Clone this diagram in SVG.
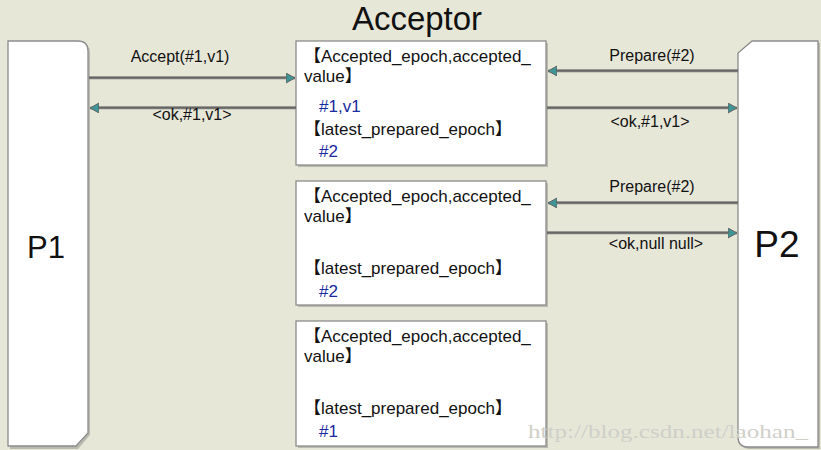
<svg xmlns="http://www.w3.org/2000/svg" width="821" height="450" viewBox="0 0 821 450">
<style>
.box{fill:#ffffff;stroke:#8c8c8c;stroke-width:1.3}
.shadow{fill:#b9b9b0}
.t{font-family:"Liberation Sans","Noto Sans CJK SC",sans-serif;font-size:17px;fill:#111}
.v{font-family:"Liberation Sans","Noto Sans CJK SC",sans-serif;font-size:17px;fill:#1a2aa0}
.lbl{font-family:"Liberation Sans",Arial,sans-serif;font-size:16px;fill:#111;text-anchor:middle}
.big{font-family:"Liberation Sans",Arial,sans-serif;fill:#111;text-anchor:middle}
.ln{stroke:#777;stroke-width:2.6;fill:none}
.ln2{stroke:#4e4e4e;stroke-width:0.8;fill:none}
</style>
<defs>
<marker id="ah" markerUnits="userSpaceOnUse" markerWidth="12" markerHeight="12" refX="9" refY="5" orient="auto">
<path d="M0,0 L9,5 L0,10 Z" fill="#3f9595" stroke="#666" stroke-width="1"/>
</marker>
</defs>
<rect width="821" height="450" fill="#e7e7d8"/>
<g id="title"><text class="big" x="417" y="30" font-size="33">Acceptor</text></g>
<g id="P1">
<path class="shadow" d="M10,43 H80 Q90,43 90,53 V435 L78,449 H10 Z"/>
<path class="box" d="M8,41 H78 Q88,41 88,51 V433 L76,446 H8 Z"/>
<text class="big" x="46" y="258" font-size="31">P1</text>
</g>
<g id="P2">
<path class="shadow" d="M754,43 H820 V449 H750 Q740,449 740,439 V55 Z"/>
<path class="box" d="M752,41 H818 V447 H748 Q738,447 738,437 V53 Z"/>
<text class="big" x="777" y="257" font-size="37">P2</text>
</g>
<g id="acceptor1">
<rect class="shadow" x="298" y="43" width="250" height="124"/>
<rect class="box" x="296" y="41" width="250" height="124"/>
<text class="t" x="304" y="62">【Accepted_epoch,accepted_</text>
<text class="t" x="304" y="82">value】</text>
<text class="v" x="319" y="112">#1,v1</text>
<text class="t" x="304" y="135">【latest_prepared_epoch】</text>
<text class="v" x="319" y="157">#2</text>
</g>
<g id="acceptor2">
<rect class="shadow" x="298" y="183" width="250" height="124"/>
<rect class="box" x="296" y="181" width="250" height="124"/>
<text class="t" x="304" y="202">【Accepted_epoch,accepted_</text>
<text class="t" x="304" y="222">value】</text>
<text class="t" x="304" y="274">【latest_prepared_epoch】</text>
<text class="v" x="319" y="297">#2</text>
</g>
<g id="acceptor3">
<rect class="shadow" x="298" y="323" width="250" height="125"/>
<rect class="box" x="296" y="321" width="250" height="125"/>
<text class="t" x="304" y="342">【Accepted_epoch,accepted_</text>
<text class="t" x="304" y="362">value】</text>
<text class="t" x="304" y="414">【latest_prepared_epoch】</text>
<text class="v" x="319" y="437">#1</text>
</g>
<g id="connectors">
<line class="ln" x1="89" y1="78" x2="295" y2="78" marker-end="url(#ah)"/>
<line class="ln2" x1="89" y1="77" x2="287" y2="77"/>
<line class="ln" x1="296" y1="108" x2="90" y2="108" marker-end="url(#ah)"/>
<line class="ln2" x1="296" y1="107" x2="98" y2="107"/>
<line class="ln" x1="738" y1="71" x2="548" y2="71" marker-end="url(#ah)"/>
<line class="ln2" x1="738" y1="70" x2="556" y2="70"/>
<line class="ln" x1="547" y1="108" x2="737" y2="108" marker-end="url(#ah)"/>
<line class="ln2" x1="547" y1="107" x2="729" y2="107"/>
<line class="ln" x1="738" y1="203" x2="548" y2="203" marker-end="url(#ah)"/>
<line class="ln2" x1="738" y1="202" x2="556" y2="202"/>
<line class="ln" x1="547" y1="233" x2="737" y2="233" marker-end="url(#ah)"/>
<line class="ln2" x1="547" y1="232" x2="729" y2="232"/>
<text class="lbl" x="180" y="62">Accept(#1,v1)</text>
<text class="lbl" x="192" y="120">&lt;ok,#1,v1&gt;</text>
<text class="lbl" x="652" y="61">Prepare(#2)</text>
<text class="lbl" x="650" y="127">&lt;ok,#1,v1&gt;</text>
<text class="lbl" x="652" y="192">Prepare(#2)</text>
<text class="lbl" x="656" y="249">&lt;ok,null null&gt;</text>
</g>
<g id="watermark">
<text x="528" y="438" font-family="'Liberation Serif',serif" font-size="18" fill="#cfcfc8" textLength="280" lengthAdjust="spacingAndGlyphs">http://blog.csdn.net/laohan_</text>
</g>
</svg>
